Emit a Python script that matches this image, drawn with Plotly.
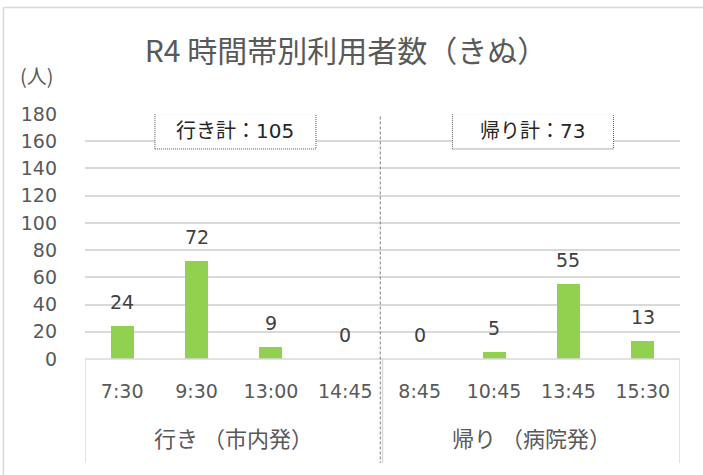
import plotly.graph_objects as go

# ---- data ----
categories = ["7:30", "9:30", "13:00", "14:45", "8:45", "10:45", "13:45", "15:30"]
values = [24, 72, 9, 0, 0, 5, 55, 13]
groups = ["行き （市内発）", "帰り （病院発）"]
group_sizes = [4, 4]
totals_text = ["行き計：105", "帰り計：73"]
y_ticks = [0, 20, 40, 60, 80, 100, 120, 140, 160, 180]
title_text = "R4 時間帯別利用者数（きぬ）"
y_unit = "(人)"

FONT = "DejaVu Sans, Noto Sans CJK JP"
CJK = "Noto Sans CJK JP"
GRID = "#d9d9d9"
BAR = "#92d050"

xs = list(range(len(categories)))

fig = go.Figure()
fig.add_trace(go.Bar(
    x=xs, y=values, width=0.31,
    marker=dict(color=BAR, line=dict(width=0)),
    hoverinfo="skip",
))

annotations = []
# data labels
for x, v in zip(xs, values):
    annotations.append(dict(
        x=x, y=v, xref="x", yref="y", text=str(v), showarrow=False,
        yanchor="middle", yshift=24,
        font=dict(family=FONT, size=19, color="#404040"),
    ))

shapes = []
# outer chart border (left and top edges; right/bottom lie outside the frame)
shapes.append(dict(type="line", xref="paper", yref="paper",
                   x0=-0.137, x1=-0.137, y0=-0.6, y1=1.4347,
                   line=dict(color=GRID, width=1.5), layer="below"))
shapes.append(dict(type="line", xref="paper", yref="paper",
                   x0=-0.137, x1=1.1, y0=1.4347, y1=1.4347,
                   line=dict(color=GRID, width=1.5), layer="below"))

# category-axis box lines
shapes.append(dict(type="line", xref="paper", yref="paper",
                   x0=0, x1=1, y0=0, y1=0, line=dict(color=GRID, width=1.5)))
start = 0
bounds = [-0.5]
for n in group_sizes:
    start += n
    bounds.append(start - 0.5)
for b in bounds:
    shapes.append(dict(type="line", xref="x", yref="paper",
                       x0=b, x1=b, y0=0, y1=-0.4245,
                       line=dict(color=GRID, width=1.5)))

# dashed separator between groups
sep = group_sizes[0] - 0.5
shapes.append(dict(type="line", xref="x", yref="paper",
                   x0=sep - 0.03, x1=sep - 0.03, y0=0.99, y1=-0.4245,
                   line=dict(color="#7f7f7f", width=1, dash="3px,2px")))

# group labels and total boxes
start = 0
for g, n, t in zip(groups, group_sizes, totals_text):
    center = start + (n - 1) / 2
    annotations.append(dict(
        x=center, y=-0.32, xref="x", yref="paper", text=g, showarrow=False,
        xanchor="center", yanchor="middle",
        font=dict(family=CJK, size=22, color="#595959"),
    ))
    shapes.append(dict(type="rect", xref="x", yref="y",
                       x0=center - 1.06, x1=center + 1.105, y0=154.3, y1=180.3,
                       line=dict(color="#595959", width=1, dash="1px,1px"),
                       fillcolor="white", layer="above"))
    annotations.append(dict(
        x=center + 0.02, y=167.3, xref="x", yref="y", text=t, showarrow=False,
        xanchor="center", yanchor="middle",
        font=dict(family=FONT, size=20, color="#262626"),
    ))
    start += n

# y unit label
annotations.append(dict(
    x=(37 - 85) / 595, y=1 + (114 - 76) / 245, xref="paper", yref="paper",
    text=y_unit, showarrow=False, xanchor="center", yanchor="middle",
    font=dict(family=CJK, size=20, color="#595959"),
))

fig.update_layout(
    width=703, height=475,
    margin=dict(l=85, r=23, t=114, b=116),
    paper_bgcolor="white", plot_bgcolor="white",
    showlegend=False,
    title=dict(text=title_text, x=346 / 703, y=1 - 51 / 475,
               xref="container", yref="container",
               xanchor="center", yanchor="middle",
               font=dict(family=CJK, size=30, color="#595959")),
    xaxis=dict(
        tickmode="array", tickvals=xs, ticktext=categories,
        range=[-0.5, len(categories) - 0.5],
        showgrid=False, zeroline=False, showline=False, ticks="",
        tickfont=dict(family=FONT, size=19, color="#595959"),
        ticklabelstandoff=19,
    ),
    yaxis=dict(
        range=[0, 180], tickvals=y_ticks,
        showgrid=True, gridcolor=GRID, gridwidth=1.5,
        zeroline=False, showline=False, ticks="",
        tickfont=dict(family=FONT, size=19, color="#595959"),
        ticklabelstandoff=27,
    ),
    annotations=annotations,
    shapes=shapes,
    bargap=0,
)

fig.write_html(
    "out.html",
    config={"displayModeBar": False},
    post_script="document.body.style.margin='0';document.body.style.overflow='hidden';",
)
